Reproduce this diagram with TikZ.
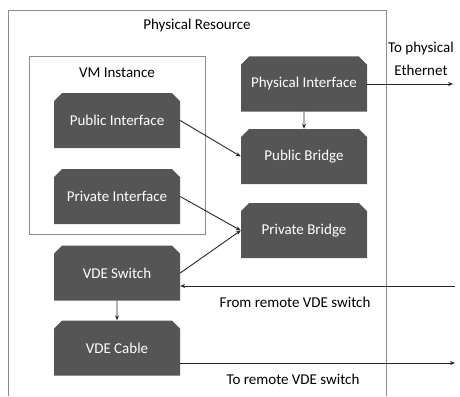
\documentclass[tikz,border=0pt]{standalone}
\usepackage{fontspec}
\setmainfont{Carlito}
\usetikzlibrary{shapes.misc,arrows.meta}
\definecolor{boxgray}{HTML}{555555}
\definecolor{framegray}{HTML}{8C8C8C}
\tikzset{
  netbox/.style={chamfered rectangle, chamfered rectangle corners={north west,north east},
    chamfered rectangle xsep=5pt, fill=boxgray, text=white, inner sep=0pt,
    minimum width=126pt, minimum height=55pt, font=\fontsize{15}{17}\selectfont},
  link/.style={-{Stealth[length=5pt,width=4pt]}, line width=0.9pt, black!85},
  lbl/.style={font=\fontsize{15}{23}\selectfont, align=center, inner sep=0pt}
}
\begin{document}
\begin{tikzpicture}[x=1pt,y=-1pt]
\useasboundingbox (0,0) rectangle (460,396);

% frames
\draw[framegray, line width=0.8pt] (8,396) |- (386,10) -- (386,396);
\draw[framegray, line width=0.8pt] (29,56) rectangle (205,234);
\node[lbl] (resource) at (197,26){Physical Resource};
\node[lbl] (vm) at (117,73){VM Instance};

% boxes
\node[netbox] (pubif) at (117,120.5){Public Interface};
\node[netbox] (privif) at (117,196.5){Private Interface};
\node[netbox] (physif) at (304,84){Physical Interface};
\node[netbox] (pubbr) at (304,156.5){Public Bridge};
\node[netbox] (privbr) at (304,230.5){Private Bridge};
\node[netbox] (vdesw) at (117,273){VDE Switch};
\node[netbox] (vdecab) at (117,348){VDE Cable};

% outside ends
\coordinate (ether) at (453,84);
\coordinate (fromremote) at (455,286);
\coordinate (toremote) at (455,363);

\draw[link](physif) -- (pubbr);
\draw[link](pubif.east) -- (pubbr.west);
\draw[link](privif.east) -- (privbr.west);
\draw[link](vdesw.east) -- (privbr.west);
\draw[link](vdesw) -- (vdecab);
\draw[link](physif.east) -- (ether);
\draw[link](fromremote) -- (fromremote -| vdesw.east);
\draw[link](vdecab.east |- toremote) -- (toremote);

% labels
\node[lbl] (etherlbl) at (421,58.5){To physical\\Ethernet};
\node[lbl] (fromlbl) at (295,302){From remote VDE switch};
\node[lbl] (tolbl) at (293,379){To remote VDE switch};
\end{tikzpicture}
\end{document}
